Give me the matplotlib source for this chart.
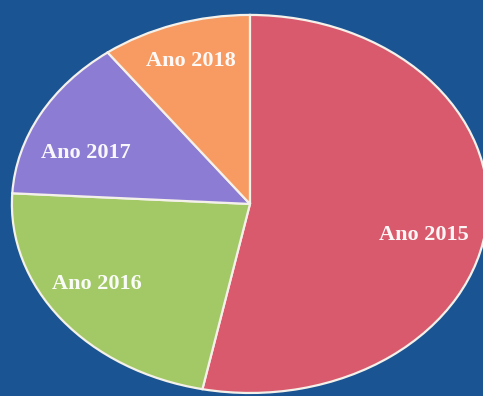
import matplotlib.pyplot as plt

# share of each year
anos = ['Ano 2015', 'Ano 2016', 'Ano 2017', 'Ano 2018']
valores = [53.2, 22.7, 13.9, 10.2]
cores = ['#d95a6c', '#a3c866', '#8d7cd3', '#f79b62']

fig = plt.figure(figsize=(4.83, 3.96), dpi=100)
fig.patch.set_facecolor('#1b5493')
ax = fig.add_axes([0, 0, 1, 1])
ax.set_facecolor('#1b5493')

wedges, texts = ax.pie(valores, labels=anos, colors=cores, startangle=90,
                       counterclock=False, labeldistance=0.76,
                       wedgeprops=dict(edgecolor='#f4f1ea', linewidth=1.6),
                       textprops=dict(color='white', fontsize=16, fontweight='bold',
                                      family='Liberation Serif'))

# small nudges for the labels (x, y in pie units)
ajustes = [(-0.025, -0.09), (-0.04, 0.04), (-0.02, -0.09), (-0.01, 0.035)]
for t, (dx, dy) in zip(texts, ajustes):
    x, y = t.get_position()
    t.set_position((x + dx, y + dy))
    t.set_ha('center')
    t.set_va('center')
    t.set_alpha(0.95)

# stretched pie: let the axes fill the canvas without equal aspect
ax.set_aspect('auto')
ax.set_xlim(-1.050, 0.979)
ax.set_ylim(-1.016, 1.079)
ax.axis('off')

fig.savefig('out.png', dpi=100, facecolor=fig.get_facecolor())
